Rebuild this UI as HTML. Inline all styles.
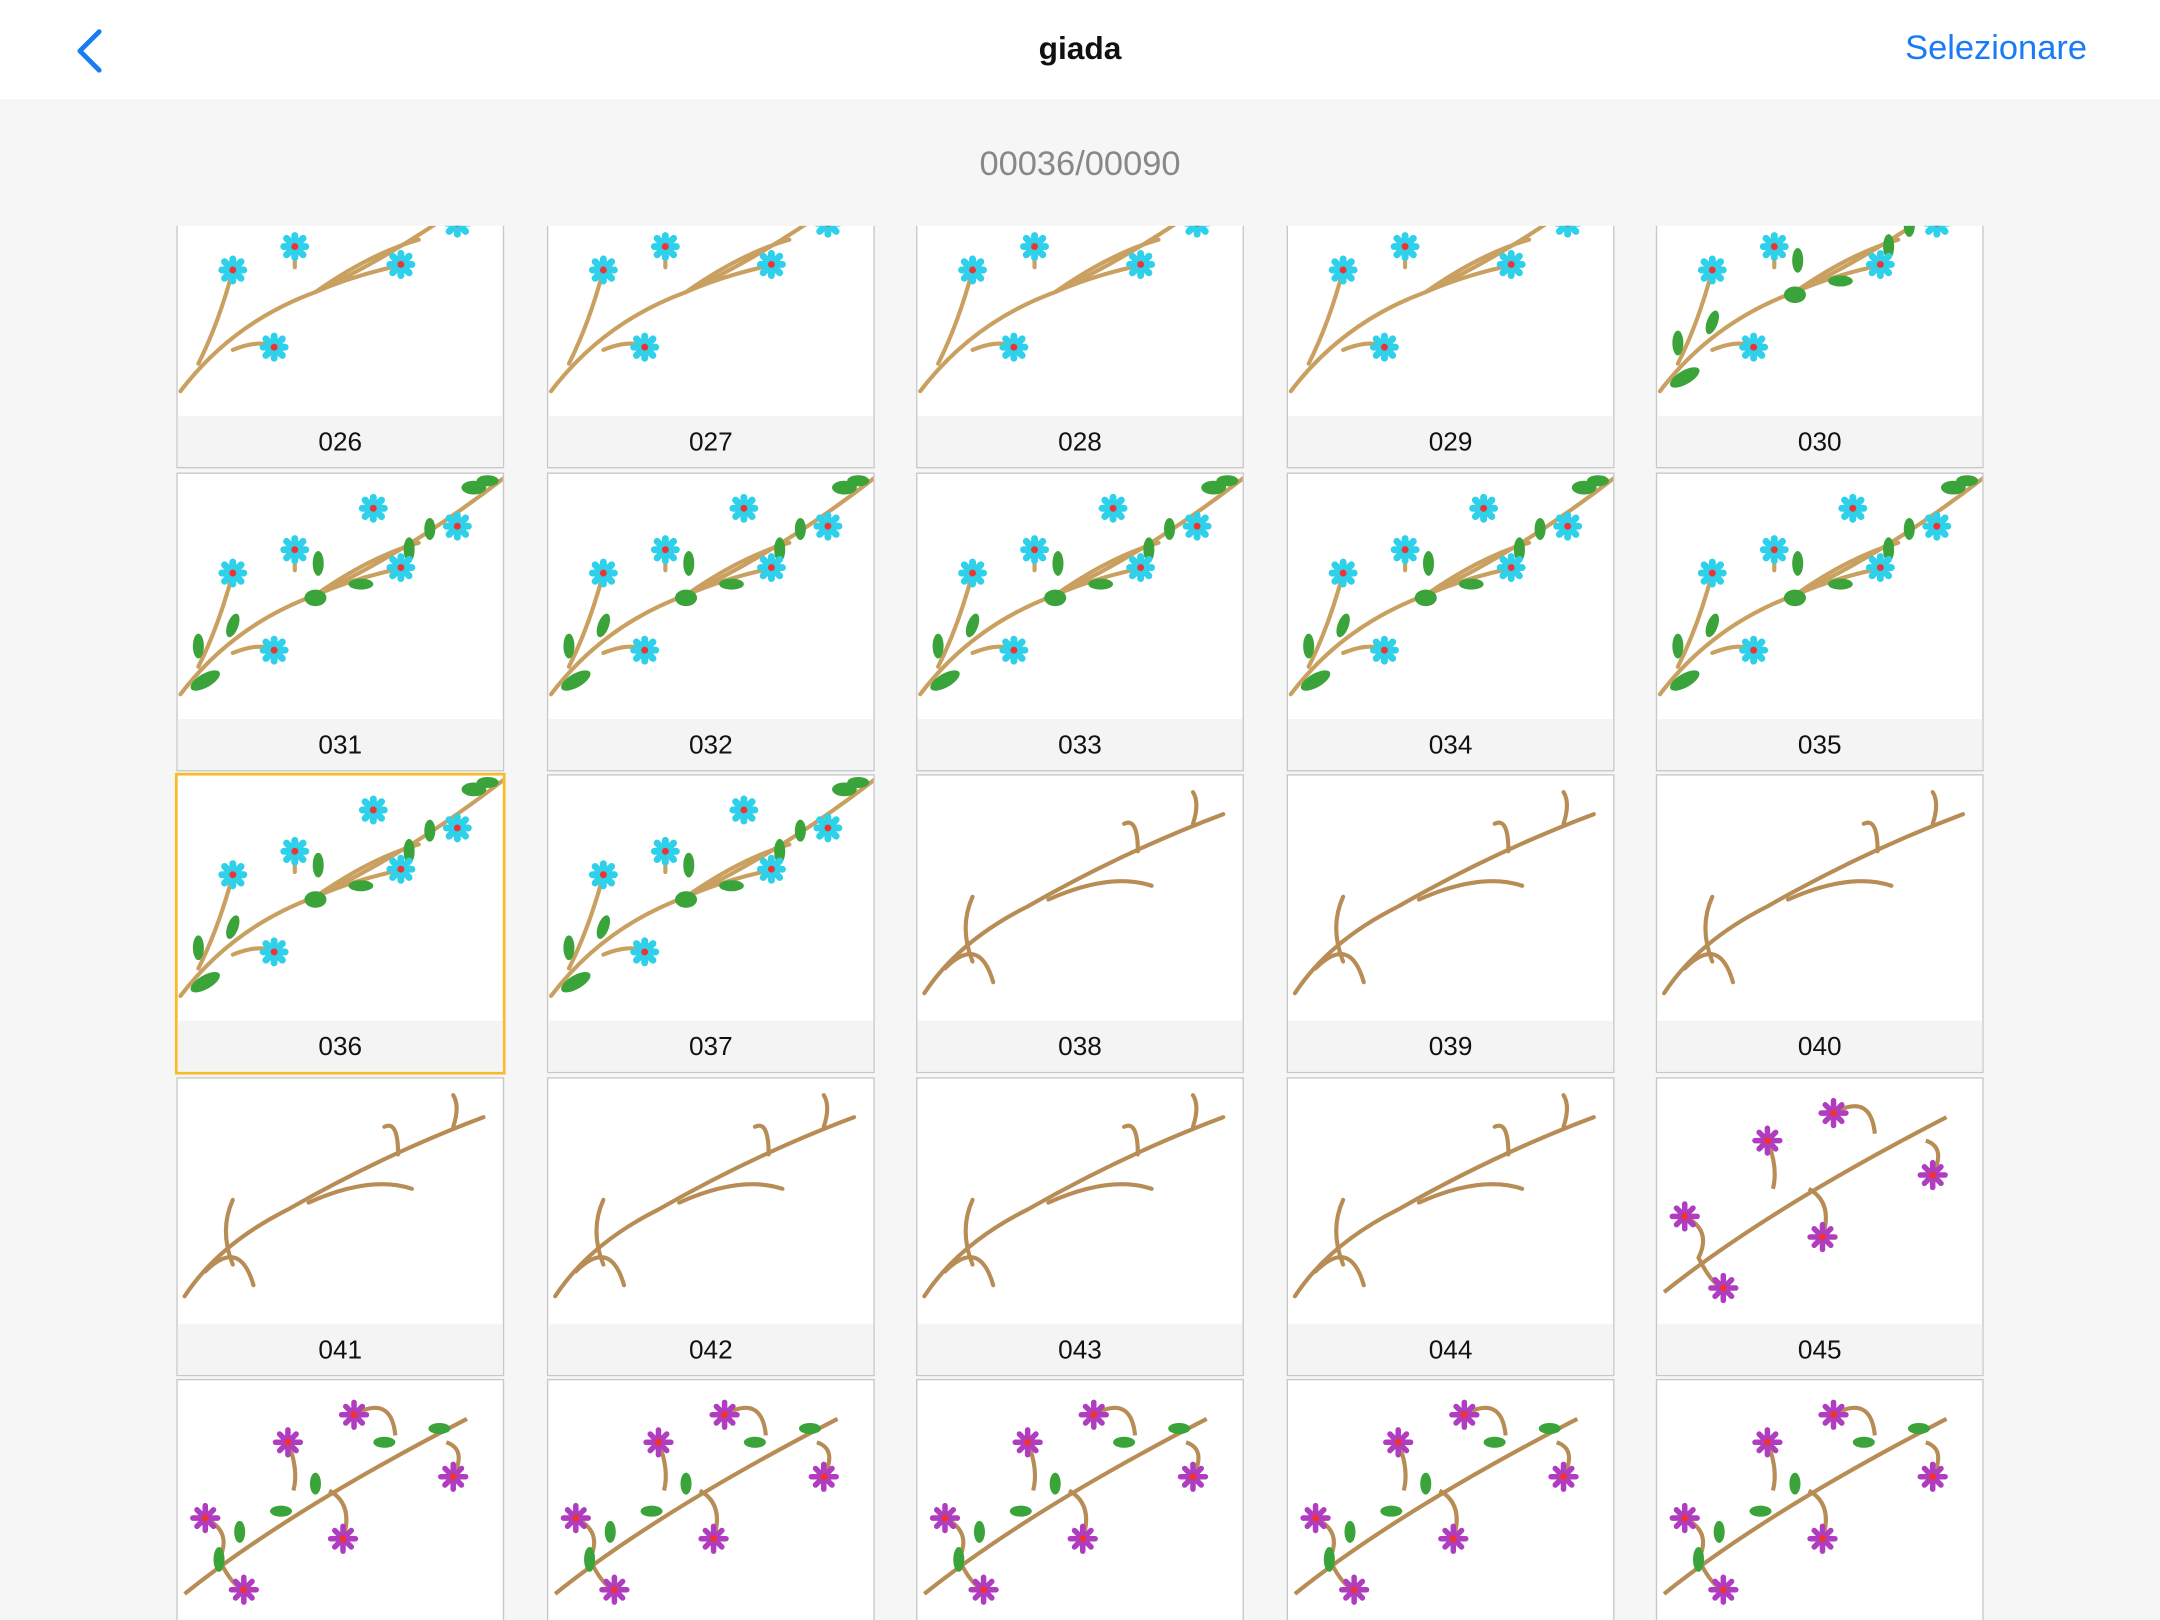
<!DOCTYPE html>
<html><head><meta charset="utf-8"><style>
html,body{margin:0;padding:0;width:2160px;height:1620px;overflow:hidden;background:#f6f6f6}
#w{width:1568px;height:1176px;transform:scale(1.37755);transform-origin:0 0;position:relative;font-family:"Liberation Sans",sans-serif;background:#f6f6f6;overflow:hidden}
#hd{position:absolute;left:0;top:0;width:1568px;height:72px;background:#fff}
#title{position:absolute;left:0;width:1568px;top:22px;text-align:center;font-size:23px;font-weight:bold;color:#111}
#sel{position:absolute;right:53px;top:21px;font-size:25px;color:#1a7cf5}
#cnt{position:absolute;left:0;width:1568px;top:105px;text-align:center;font-size:25px;color:#888}
.c{position:absolute;width:236px;height:215px;border:1px solid #c8c8c8;background:#fff;box-sizing:content-box}
.c svg{position:absolute;left:0;top:0}
.c .l{position:absolute;left:0;bottom:0;width:236px;height:37px;background:#f4f4f4;text-align:center;line-height:40px;font-size:19px;color:#111}
.c.s{border:2px solid #f8bb2a;margin:-1px}
#grid{position:absolute;left:0;top:164px;width:1568px;height:1012px;overflow:hidden}
</style></head><body><div id="w">
<svg width="0" height="0" style="position:absolute">
<defs>
<g id="bf"><g stroke="#2fd0ea" stroke-width="5" stroke-linecap="round"><line x1="-8" y1="0" x2="8" y2="0"/><line x1="0" y1="-8" x2="0" y2="8"/><line x1="-6" y1="-6" x2="6" y2="6"/><line x1="-6" y1="6" x2="6" y2="-6"/></g><circle r="2.5" fill="#e33"/></g>
<g id="pf"><g stroke="#b03cc0" stroke-width="4" stroke-linecap="round"><line x1="-9" y1="0" x2="9" y2="0"/><line x1="0" y1="-9" x2="0" y2="9"/><line x1="-6" y1="-6" x2="6" y2="6"/><line x1="-6" y1="6" x2="6" y2="-6"/></g><circle r="2.5" fill="#e33"/></g>
<g id="A" fill="none" stroke="#c9a060" stroke-width="3" stroke-linecap="round">
<path d="M2 160 Q40 110 100 88 Q170 55 238 2"/><path d="M100 88 Q140 60 175 50"/><path d="M100 88 Q130 75 165 68"/><path d="M15 140 Q30 110 40 72"/><path d="M40 130 Q60 122 70 128"/><path d="M85 70 L85 55"/>
</g>
<g id="Aflo"><use href="#bf" x="40" y="72"/><use href="#bf" x="85" y="55"/><use href="#bf" x="162" y="68"/><use href="#bf" x="142" y="25"/><use href="#bf" x="203" y="38"/><use href="#bf" x="70" y="128"/></g>
<g id="Alv" fill="#3aa33a"><ellipse cx="20" cy="150" rx="12" ry="5" transform="rotate(-30 20 150)"/><ellipse cx="15" cy="125" rx="4" ry="9"/><ellipse cx="40" cy="110" rx="4" ry="9" transform="rotate(20 40 110)"/><ellipse cx="100" cy="90" rx="8" ry="6"/><ellipse cx="102" cy="65" rx="4" ry="9"/><ellipse cx="133" cy="80" rx="9" ry="4"/><ellipse cx="168" cy="55" rx="4" ry="9"/><ellipse cx="183" cy="40" rx="4" ry="8"/><ellipse cx="215" cy="10" rx="9" ry="5"/><ellipse cx="225" cy="5" rx="8" ry="4"/></g>
<g id="B" fill="none" stroke="#b88c55" stroke-width="3" stroke-linecap="round">
<path d="M5 158 Q30 120 80 95 Q150 55 222 28"/><path d="M95 90 Q140 70 170 80"/><path d="M40 88 Q30 110 40 135"/><path d="M20 140 Q45 115 55 150"/><path d="M160 55 Q160 30 150 35"/><path d="M200 35 Q205 20 200 12"/>
</g>
<g id="P"><path d="M5 155 Q80 95 210 28" fill="none" stroke="#b88c55" stroke-width="3"/><path d="M20 100 Q40 110 30 130 Q40 150 48 152" fill="none" stroke="#b88c55" stroke-width="3"/><path d="M120 115 Q128 90 110 80" fill="none" stroke="#b88c55" stroke-width="3"/><path d="M128 25 Q155 10 158 40" fill="none" stroke="#b88c55" stroke-width="3"/><path d="M80 45 Q88 65 84 80" fill="none" stroke="#b88c55" stroke-width="3"/><path d="M200 70 Q210 50 195 45" fill="none" stroke="#b88c55" stroke-width="3"/><use href="#pf" x="20" y="100"/><use href="#pf" x="80" y="45"/><use href="#pf" x="128" y="25"/><use href="#pf" x="200" y="70"/><use href="#pf" x="120" y="115"/><use href="#pf" x="48" y="152"/></g>
<g id="PL" fill="#3aa33a"><ellipse cx="30" cy="130" rx="4" ry="9"/><ellipse cx="75" cy="95" rx="8" ry="4"/><ellipse cx="100" cy="75" rx="4" ry="8"/><ellipse cx="150" cy="45" rx="8" ry="4"/><ellipse cx="190" cy="35" rx="8" ry="4"/><ellipse cx="45" cy="110" rx="4" ry="8"/></g>
</defs></svg>
<div id="hd">
<svg style="position:absolute;left:52px;top:20px" width="26" height="34"><path d="M20 3 L6 17 L20 31" fill="none" stroke="#1a7cf5" stroke-width="3.5" stroke-linecap="round" stroke-linejoin="round"/></svg>
<div id="title">giada</div><div id="sel">Selezionare</div></div>
<div id="cnt">00036/00090</div>
<div id="grid"></div>
<script>
(function(){
var xs=[128,397,665,934,1202],g=document.getElementById('grid'),h='';
for(var r=0;r<5;r++)for(var c=0;c<5;c++){var n=26+r*5+c,tp=123+r*219.5-164,t;
if(n<=29)t='<use href="#A"/><use href="#Aflo"/>';else if(n<=37)t='<use href="#A"/><use href="#Alv"/><use href="#Aflo"/>';else if(n<=44)t='<use href="#B"/>';else if(n==45)t='<use href="#P"/>';else t='<use href="#P"/><use href="#PL"/>';
h+='<div class="c'+(n==36?' s':'')+'" style="left:'+xs[c]+'px;top:'+tp+'px"><svg width="236" height="180">'+t+'</svg><div class="l">0'+n+'</div></div>';}
g.innerHTML=h;
})();
</script>
</div></body></html>
